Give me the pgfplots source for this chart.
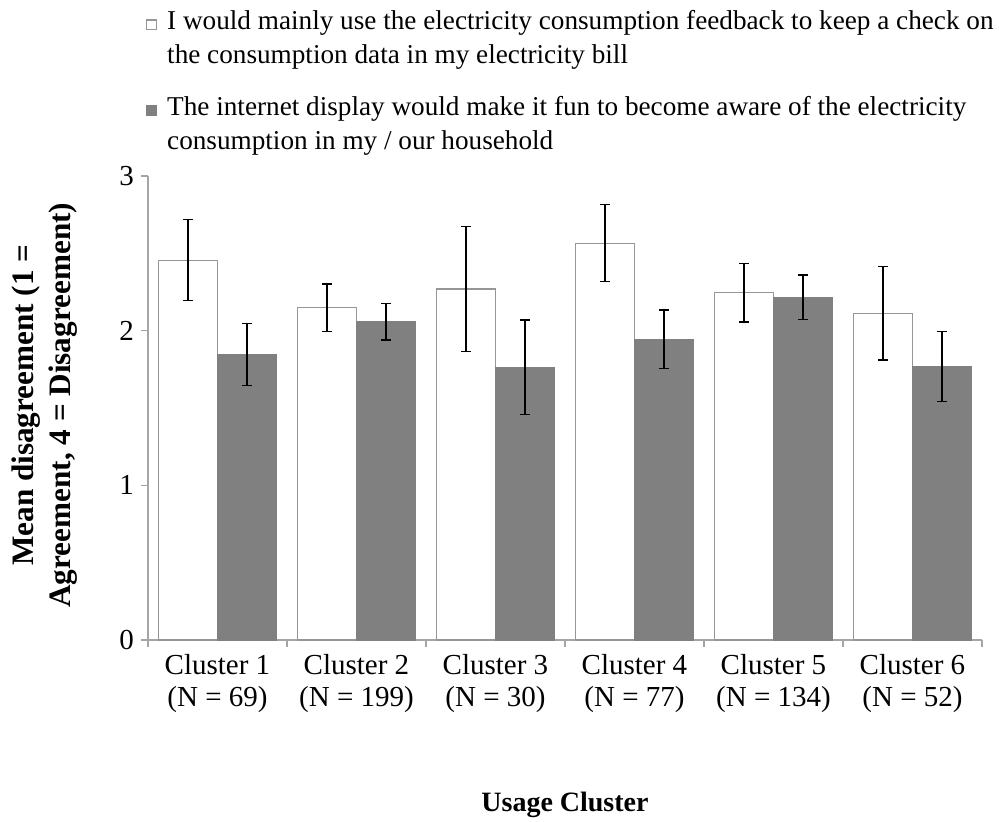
\documentclass[border=0pt]{standalone}
\usepackage{fontspec}
\setmainfont{Liberation Serif}
\usepackage{pgfplots}
\pgfplotsset{compat=1.18}
\definecolor{barg}{RGB}{128,128,128}
\definecolor{axg}{RGB}{165,165,165}
\definecolor{edg}{RGB}{150,150,150}
\begin{document}
\begin{tikzpicture}
\begin{axis}[
  scale only axis,
  width=417pt, height=232pt,
  xmin=-0.5, xmax=5.5, ymin=0, ymax=3,
  axis x line=bottom, axis y line=left,
  axis line style={-, draw=axg, line width=0.6pt},
  tick style={draw=axg, line width=0.6pt},
  tick align=outside,
  major tick length=3.5pt,
  ytick={0,1,2,3},
  xtick={-0.5,0.5,...,5.5},
  x tick label as interval,
  xticklabels={{Cluster 1\\(N = 69)},{Cluster 2\\(N = 199)},{Cluster 3\\(N = 30)},{Cluster 4\\(N = 77)},{Cluster 5\\(N = 134)},{Cluster 6\\(N = 52)}},
  xticklabel style={align=center, font=\fontsize{14.5}{16}\selectfont},
  yticklabel style={font=\fontsize{14.5}{16}\selectfont},
  /pgf/number format/assume math mode=true,
  ybar, bar width=0.425,
  ylabel={Mean disagreement (1 =\\Agreement, 4 = Disagreement)},
  ylabel style={align=center, font=\fontsize{15.6}{18.5}\selectfont\bfseries, at={(axis description cs:-0.124,0.506)}, anchor=center, rotate=0},
  xlabel={Usage Cluster},
  xlabel style={font=\fontsize{14}{16}\selectfont\bfseries, at={(axis description cs:0.5,-0.356)}, anchor=center},
  legend style={at={(axis description cs:0,1)}, anchor=south west, xshift=-1pt, yshift=12pt,
    draw=none, fill=none, inner sep=0pt, outer sep=0pt,
    font=\fontsize{13.6}{17}\selectfont, row sep=14.7pt, column sep=5pt,
    cells={anchor=base west}, nodes={align=left, inner sep=0pt, outer sep=0pt}},
  legend image code/.code={\draw[#1] (0pt,17pt) rectangle (5pt,21.7pt);},
  error bars/y dir=both, error bars/y explicit,
  error bars/error bar style={black, line width=0.6pt},
  error bars/error mark options={rotate=90, black, mark size=2.3pt, line width=0.6pt},
]
\addplot[fill=white, draw=edg, line width=0.6pt, bar shift=-0.2125] coordinates {
  (0,2.456) +- (0,0.262)
  (1,2.148) +- (0,0.154)
  (2,2.269) +- (0,0.402)
  (3,2.566) +- (0,0.249)
  (4,2.245) +- (0,0.189)
  (5,2.112) +- (0,0.302)
};
\addlegendentry{I would mainly use the electricity consumption feedback to keep a check on\\the consumption data in my electricity bill}
\addplot[fill=barg, draw=barg, line width=0.6pt, bar shift=0.2125] coordinates {
  (0,1.847) +- (0,0.199)
  (1,2.058) +- (0,0.118)
  (2,1.763) +- (0,0.306)
  (3,1.944) +- (0,0.190)
  (4,2.215) +- (0,0.145)
  (5,1.767) +- (0,0.226)
};
\addlegendentry{The internet display would make it fun to become aware of the electricity\\consumption in my / our household}
\coordinate (sw) at (rel axis cs:0,0);
\coordinate (ne) at (rel axis cs:1,1);
\end{axis}
\pgfresetboundingbox
\path ([shift={(-74pt,-90.5pt)}]sw) rectangle ([shift={(8.5pt,88pt)}]ne);
\end{tikzpicture}
\end{document}
